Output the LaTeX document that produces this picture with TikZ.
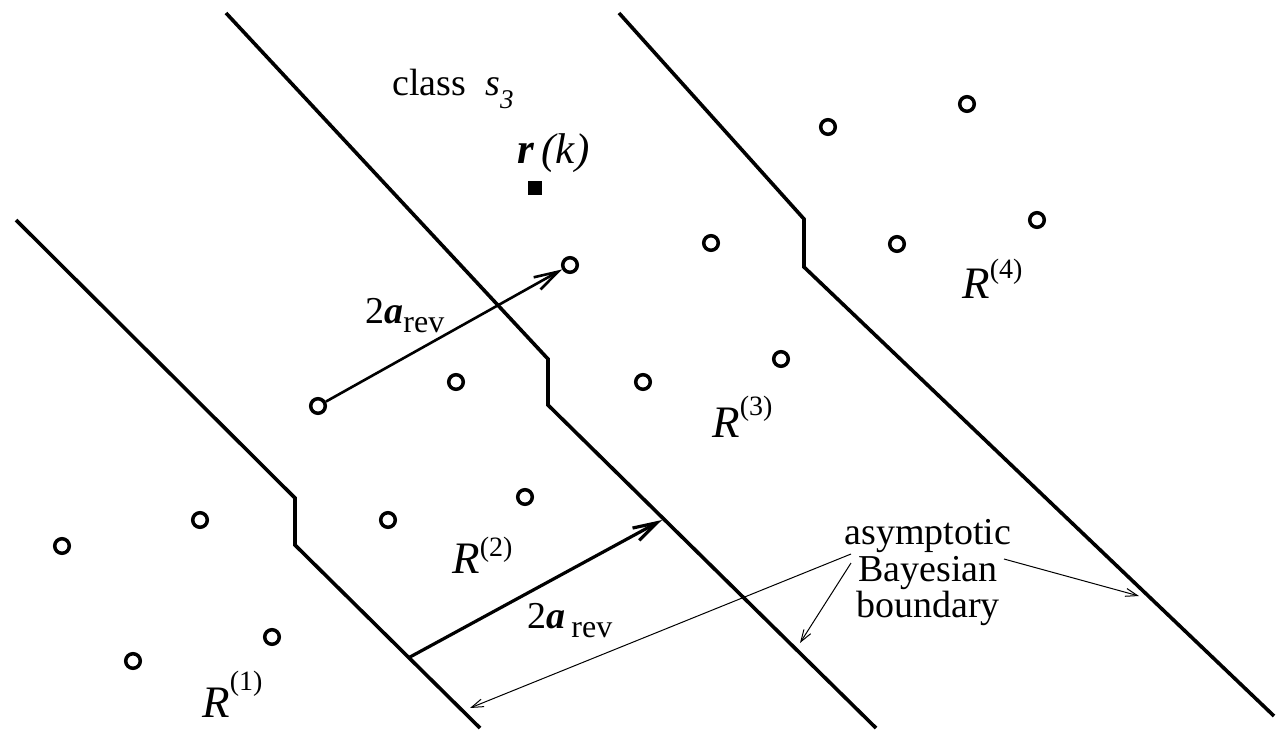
\documentclass[tikz,border=0pt]{standalone}
\usepackage{fontspec}
\setmainfont{Liberation Serif}
\usetikzlibrary{arrows.meta}
\newcommand{\Rsup}[2]{{\fontsize{22.5}{24}\selectfont\textit{R}}\raisebox{#2}{\fontsize{14}{16}\selectfont(#1)}}
\begin{document}
\begin{tikzpicture}[x=0.5pt,y=-0.5pt,
  bnd/.style={line width=1.8pt,line join=miter},
  dot/.style={circle,draw,line width=1.75pt,minimum size=7.3pt,inner sep=0pt},
  bigarrow/.style={-{Straight Barb[length=12pt,width=7pt]}},
  thinarrow/.style={line width=0.5pt,-{Straight Barb[length=6pt,width=4pt]}},
  txt/.style={inner sep=0pt,anchor=base west},
]
\useasboundingbox (0,0) rectangle (1276,730);

% boundaries
\draw[bnd] (16,220) -- (295,498) -- (295,545) -- (480,728);
\draw[bnd] (226,13) -- (548,359) -- (548,405) -- (876,728);
\draw[bnd] (619,13) -- (804,219) -- (804,267) -- (1274,716);

% samples
\node[dot] (c1) at (62,546) {};
\node[dot] (c2) at (200,520) {};
\node[dot] (c3) at (133,661) {};
\node[dot] (c4) at (272,637) {};
\node[dot] (c5) at (318,406) {};
\node[dot] (c6) at (456,382) {};
\node[dot] (c7) at (388,520) {};
\node[dot] (c8) at (525,497) {};
\node[dot] (c9) at (570,265) {};
\node[dot] (c10) at (643,382) {};
\node[dot] (c11) at (711,243) {};
\node[dot] (c12) at (781,359) {};
\node[dot] (c13) at (828,127) {};
\node[dot] (c14) at (967,104) {};
\node[dot] (c15) at (897,244) {};
\node[dot] (c16) at (1037,220) {};

% observation
\node[fill,inner sep=0pt,minimum size=7.3pt] (rk) at (535,188) {};

% arrows 2a_rev
\draw[bigarrow,line width=1.3pt] (c5) -- (c9);
\coordinate (a2s) at (410,657);
\coordinate (a2e) at (662,520);
\draw[bigarrow,line width=1.6pt] (a2s) -- (a2e);

% texts
\node[txt] (cls) at (392,95) {\fontsize{19}{20}\selectfont class};
\node[txt] (s3) at (485,95) {\fontsize{19}{20}\selectfont\textit{s}\raisebox{-6.5pt}{\fontsize{13.5}{15}\selectfont\textit{3}}};
\node[txt] (rklab) at (517,163) {\fontsize{21.5}{23}\selectfont\textbf{\textit{r}}\,\textit{(k)}};
\node[txt] (ar1) at (365,323) {\fontsize{19}{20}\selectfont 2\textbf{\textit{a}}\raisebox{-4.5pt}{\fontsize{16}{17}\selectfont rev}};
\node[txt] (ar2) at (527,628) {\fontsize{19}{20}\selectfont 2\textbf{\textit{a}}\hspace{3pt}\raisebox{-4.5pt}{\fontsize{16}{17}\selectfont rev}};
\node[txt] (R1) at (202,717) {\Rsup{1}{13.5pt}};
\node[txt] (R2) at (452,573) {\Rsup{2}{8.5pt}};
\node[txt] (R3) at (712,437) {\Rsup{3}{11pt}};
\node[txt] (R4) at (962,298) {\Rsup{4}{10pt}};

% asymptotic boundary label
\node[align=center,inner sep=0pt,font=\fontsize{19}{18.25}\selectfont] (lab) at (928,573) {asymptotic\\Bayesian\\boundary};
\coordinate (t1s) at (851,554);
\coordinate (t1e) at (470,708);
\coordinate (t2s) at (851,563);
\coordinate (t2e) at (800,643);
\coordinate (t3s) at (1004,559);
\coordinate (t3e) at (1139,596);
\draw[thinarrow] (t1s) -- (t1e);
\draw[thinarrow] (t2s) -- (t2e);
\draw[thinarrow] (t3s) -- (t3e);
\end{tikzpicture}
\end{document}
